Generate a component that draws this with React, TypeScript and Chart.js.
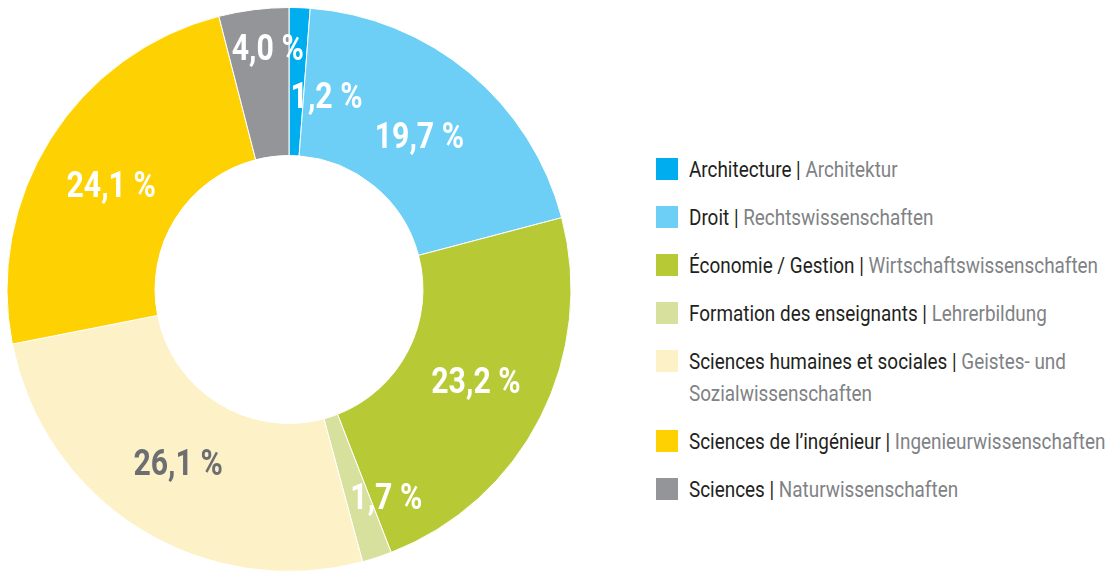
import React, { useEffect, useRef } from "react";
import { Chart, registerables } from "chart.js";

Chart.register(...registerables);

// ---- data ----
const categoriesFr = [
  "Architecture",
  "Droit",
  "Économie / Gestion",
  "Formation des enseignants",
  "Sciences humaines et sociales",
  "Sciences de l’ingénieur",
  "Sciences",
];
const categoriesDe = [
  "Architektur",
  "Rechtswissenschaften",
  "Wirtschaftswissenschaften",
  "Lehrerbildung",
  "Geistes- und Sozialwissenschaften",
  "Ingenieurwissenschaften",
  "Naturwissenschaften",
];
const shares = [1.2, 19.7, 23.2, 1.7, 26.1, 24.1, 4.0];

// ---- styles ----
const colors = ["#00AEEF", "#6DCFF6", "#B7CA35", "#D7E19D", "#FDF1C8", "#FED102", "#939598"];
const labelColors = ["#FFFFFF", "#FFFFFF", "#FFFFFF", "#FFFFFF", "#6D6E71", "#FFFFFF", "#FFFFFF"];
const labelAngleOffsetsDeg = [8.8, 0.4, -1.0, -7.0, 0.9, -1.7, 2.2];
const labelRadiusFractions = [0.43, 0.46, 0.5, 0.64, 0.48, 0.49, 0.74];

const FONT = 'Roboto, "Noto Sans", sans-serif';
const LABEL_SIZE = 36;
const LABEL_SCALE_X = 0.84;
const LEGEND_SCALE_X = 0.84;
const LEGEND_TEXT_WIDTH = 425; // effective (scaled) width

const fmt = (v: number) => v.toFixed(1).replace(".", ",") + " %";

const labelPlugin = {
  id: "sliceLabels",
  afterDatasetsDraw(chart: any) {
    const ctx = chart.ctx;
    const meta = chart.getDatasetMeta(0);
    meta.data.forEach((arc: any, i: number) => {
      const { x, y, startAngle, endAngle, innerRadius, outerRadius } = arc.getProps(
        ["x", "y", "startAngle", "endAngle", "innerRadius", "outerRadius"],
        true
      );
      const a = (startAngle + endAngle) / 2 + (labelAngleOffsetsDeg[i] * Math.PI) / 180;
      const r = innerRadius + (outerRadius - innerRadius) * labelRadiusFractions[i];
      const px = x + Math.cos(a) * r;
      const py = y + Math.sin(a) * r;
      ctx.save();
      ctx.font = `bold ${LABEL_SIZE}px ${FONT}`;
      ctx.textAlign = "center";
      ctx.textBaseline = "alphabetic";
      ctx.fillStyle = labelColors[i];
      ctx.translate(px, py);
      ctx.scale(LABEL_SCALE_X, 1);
      ctx.fillText(fmt(shares[i]), 0, LABEL_SIZE * 0.355);
      ctx.restore();
    });
  },
};

export default function App() {
  const canvasRef = useRef<HTMLCanvasElement | null>(null);

  useEffect(() => {
    document.body.style.margin = "0";
    const canvas = canvasRef.current;
    if (!canvas) return;
    const chart = new Chart(canvas, {
      type: "doughnut",
      data: {
        labels: categoriesFr.map((fr, i) => `${fr} | ${categoriesDe[i]}`),
        datasets: [
          {
            data: shares,
            backgroundColor: colors,
            borderColor: "#FFFFFF",
            borderWidth: 1,
            hoverOffset: 0,
          },
        ],
      },
      options: {
        animation: false,
        responsive: true,
        maintainAspectRatio: false,
        cutout: "47.5%",
        layout: { padding: { left: 6, right: 28, top: 7, bottom: 0 } },
        plugins: {
          legend: { display: false },
          tooltip: { enabled: false },
        },
        events: [],
      },
      plugins: [labelPlugin],
    });
    return () => chart.destroy();
  }, []);

  return (
    <div
      style={{
        position: "absolute",
        left: 0,
        top: 0,
        width: 1111,
        height: 572,
        overflow: "hidden",
        background: "#FFFFFF",
      }}
    >
      <div style={{ position: "absolute", left: 0, top: 0, width: 600, height: 572 }}>
        <canvas ref={canvasRef} />
      </div>
      <div
        style={{
          position: "absolute",
          left: 656,
          top: 153,
          width: 470,
          fontFamily: FONT,
          fontSize: 22.5,
          lineHeight: "32px",
        }}
      >
        {categoriesFr.map((fr, i) => (
          <div key={fr} style={{ display: "flex", alignItems: "flex-start", marginBottom: 16 }}>
            <div
              style={{
                width: 22,
                height: 22,
                marginTop: 5,
                marginRight: 11,
                flex: "0 0 auto",
                background: colors[i],
              }}
            />
            <div style={{ flex: "0 0 auto", width: LEGEND_TEXT_WIDTH }}>
              <div
                style={{
                  width: LEGEND_TEXT_WIDTH / LEGEND_SCALE_X,
                  transform: `scaleX(${LEGEND_SCALE_X})`,
                  transformOrigin: "left top",
                }}
              >
                <span style={{ color: "#231F20" }}>{fr} | </span>
                <span style={{ color: "#808285" }}>{categoriesDe[i]}</span>
              </div>
            </div>
          </div>
        ))}
      </div>
    </div>
  );
}
